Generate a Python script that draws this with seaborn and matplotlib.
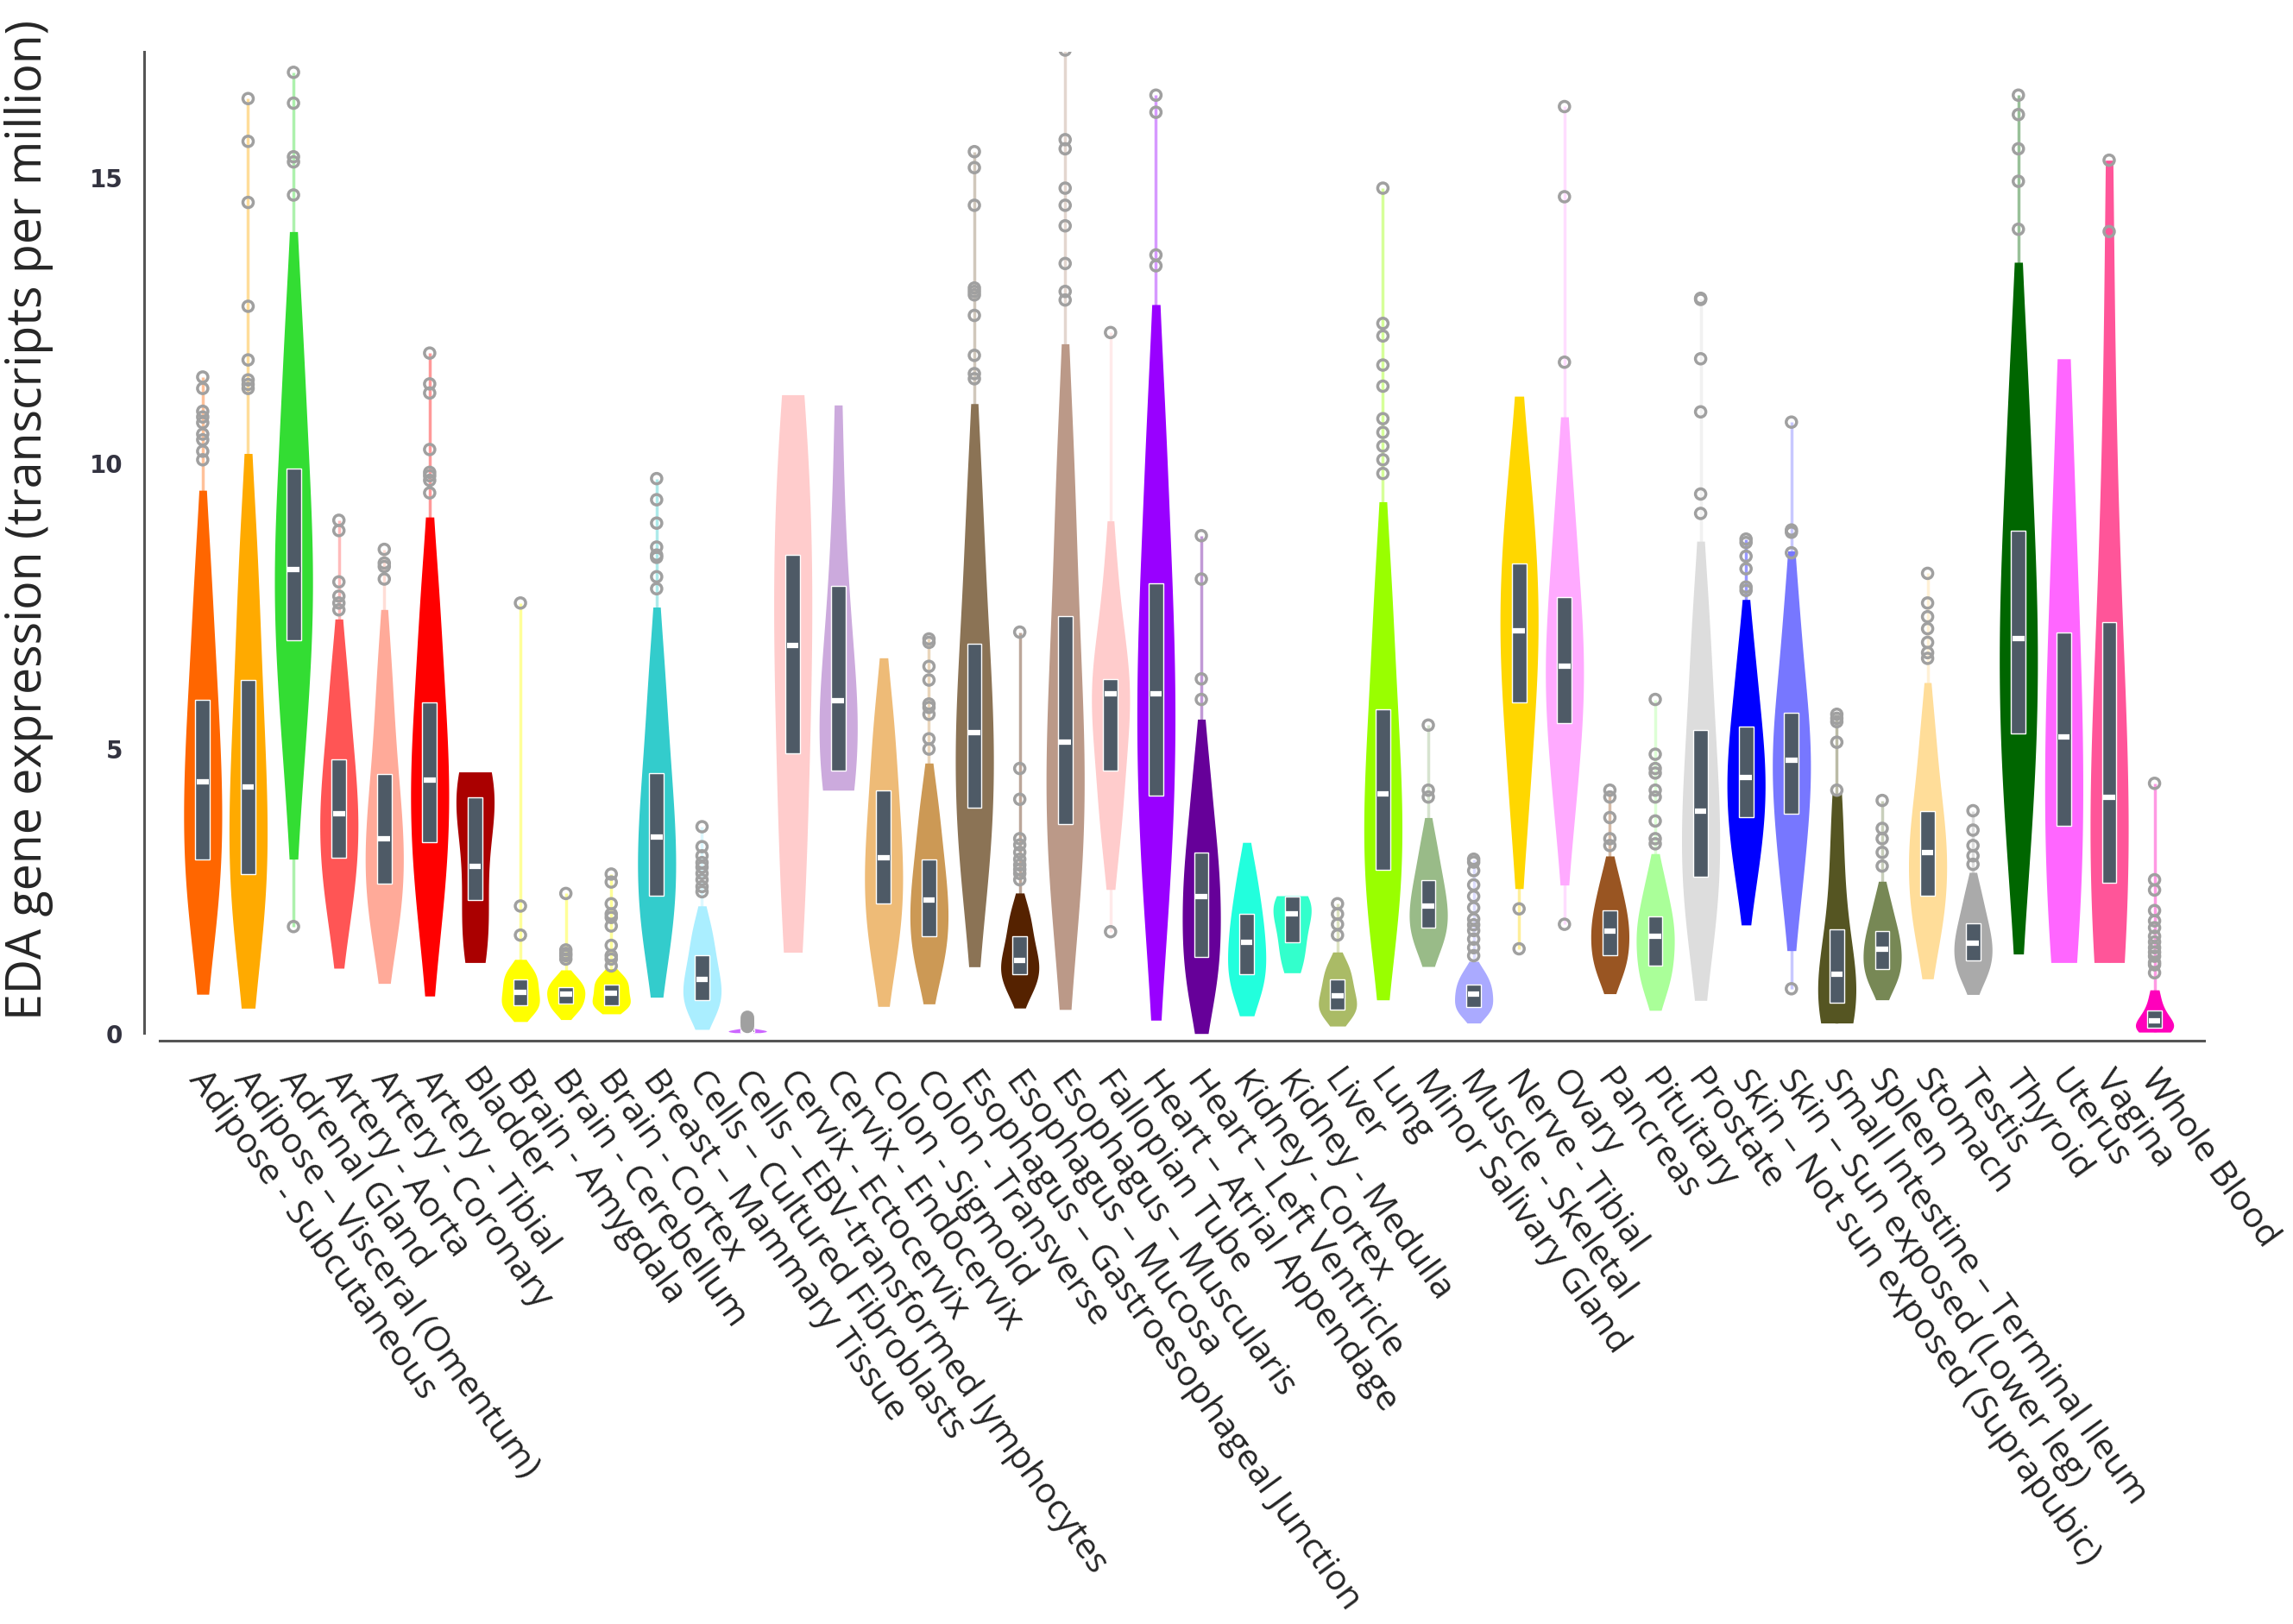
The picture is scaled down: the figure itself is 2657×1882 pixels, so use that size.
import numpy as np
import pandas as pd
import seaborn as sns
import matplotlib.pyplot as plt
from matplotlib.transforms import ScaledTranslation

sns.set_style("white")

tissues = [
    "Adipose - Subcutaneous", "Adipose – Visceral (Omentum)", "Adrenal Gland",
    "Artery - Aorta", "Artery - Coronary", "Artery - Tibial", "Bladder",
    "Brain - Amygdala", "Brain - Cerebellum", "Brain - Cortex",
    "Breast – Mammary Tissue", "Cells – Cultured Fibroblasts",
    "Cells – EBV-transformed lymphocytes", "Cervix - Ectocervix", "Cervix - Endocervix",
    "Colon - Sigmoid", "Colon - Transverse", "Esophagus – Gastroesophageal Junction",
    "Esophagus – Mucosa", "Esophagus – Muscularis", "Fallopian Tube",
    "Heart – Atrial Appendage", "Heart – Left Ventricle", "Kidney - Cortex",
    "Kidney - Medulla", "Liver", "Lung", "Minor Salivary Gland", "Muscle - Skeletal",
    "Nerve - Tibial", "Ovary", "Pancreas", "Pituitary", "Prostate",
    "Skin – Not sun exposed (Suprapubic)", "Skin – Sun exposed (Lower leg)",
    "Small Intestine – Terminal Ileum", "Spleen", "Stomach", "Testis", "Thyroid",
    "Uterus", "Vagina", "Whole Blood",
]

colors = [
    "#FF6600", "#FFAA00", "#33DD33", "#FF5555", "#FFAA99", "#FF0000", "#AA0000",
    "#FFFF00", "#FFFF00", "#FFFF00", "#33CCCC", "#AAEEFF", "#CC66FF", "#FFCCCC",
    "#CCAADD", "#EEBB77", "#CC9955", "#8B7355", "#552200", "#BB9988", "#FFCCCC",
    "#9900FF", "#660099", "#22FFDD", "#33FFCC", "#AABB66", "#99FF00", "#99BB88",
    "#AAAAFF", "#FFD700", "#FFAAFF", "#995522", "#AAFF99", "#DDDDDD", "#0000FF",
    "#7777FF", "#555522", "#778855", "#FFDD99", "#AAAAAA", "#006600", "#FF66FF",
    "#FF5599", "#FF00BB",
]

# quartiles of each tissue (TPM)
q1 = [3.05, 2.79, 6.88, 3.08, 2.62, 3.35, 2.33, 0.49, 0.52, 0.49, 2.41, 0.58, 0.02,
      4.90, 4.60, 2.27, 1.70, 3.96, 1.03, 3.66, 4.60, 4.16, 1.34, 1.03, 1.60, 0.42,
      2.87, 1.85, 0.46, 5.80, 5.44, 1.36, 1.18, 2.75, 3.78, 3.84, 0.54, 1.12, 2.41,
      1.27, 5.25, 3.63, 2.63, 0.10]
med = [4.40, 4.32, 8.12, 3.84, 3.41, 4.44, 2.93, 0.72, 0.69, 0.70, 3.44, 0.94, 0.04,
       6.79, 5.83, 3.08, 2.33, 5.27, 1.27, 5.10, 5.95, 5.95, 2.39, 1.60, 2.09, 0.66,
       4.20, 2.23, 0.68, 7.06, 6.43, 1.79, 1.70, 3.90, 4.48, 4.78, 1.03, 1.48, 3.17,
       1.58, 6.91, 5.19, 4.14, 0.22]
q3 = [5.85, 6.19, 9.89, 4.80, 4.54, 5.80, 4.14, 0.94, 0.81, 0.86, 4.56, 1.36, 0.06,
      8.38, 7.84, 4.26, 3.05, 6.83, 1.70, 7.31, 6.21, 7.88, 3.17, 2.09, 2.39, 0.94,
      5.67, 2.69, 0.86, 8.24, 7.64, 2.15, 2.05, 5.32, 5.37, 5.61, 1.82, 1.79, 3.90,
      1.93, 8.81, 7.03, 7.21, 0.40]

# values read along the body of each violin
body = [
    [1.8, 2.5, 3.05, 3.7, 4.4, 5.1, 5.85, 7.0, 8.4],
    [1.7, 2.3, 2.79, 3.55, 4.32, 5.2, 6.19, 7.5, 8.9],
    [4.4, 5.8, 6.88, 7.5, 8.12, 8.9, 9.89, 11.2, 12.7],
    [1.9, 2.5, 3.08, 3.45, 3.84, 4.3, 4.80, 5.6, 6.5],
    [1.7, 2.15, 2.62, 3.0, 3.41, 3.95, 4.54, 5.5, 6.6],
    [1.7, 2.6, 3.35, 3.9, 4.44, 5.1, 5.80, 6.9, 8.0],
    [1.24, 1.55, 1.9, 2.33, 2.93, 3.5, 3.95, 4.14, 4.3, 4.45, 4.58],
    [0.35, 0.45, 0.49, 0.6, 0.72, 0.83, 0.94, 1.05, 1.15],
    [0.35, 0.45, 0.52, 0.6, 0.69, 0.75, 0.81, 0.9, 1.0],
    [0.45, 0.48, 0.49, 0.6, 0.70, 0.78, 0.86, 0.95, 1.02],
    [1.5, 1.95, 2.41, 2.9, 3.44, 3.95, 4.56, 5.5, 6.6],
    [0.35, 0.48, 0.58, 0.75, 0.94, 1.12, 1.36, 1.65, 1.95],
    [0.01, 0.02, 0.03, 0.04, 0.05, 0.06, 0.08],
    [1.42, 2.5, 3.8, 4.9, 5.9, 6.79, 7.6, 8.38, 9.3, 10.2, 11.19],
    [4.26, 4.4, 4.6, 5.0, 5.4, 5.83, 6.3, 7.0, 7.84, 9.0, 11.01],
    [1.25, 1.75, 2.27, 2.65, 3.08, 3.6, 4.26, 5.0, 5.8],
    [1.05, 1.4, 1.70, 2.0, 2.33, 2.65, 3.05, 3.6, 4.2],
    [2.4, 3.2, 3.96, 4.6, 5.27, 6.0, 6.83, 8.2, 9.8],
    [0.7, 0.88, 1.03, 1.15, 1.27, 1.45, 1.70, 1.95, 2.2],
    [1.9, 2.8, 3.66, 4.35, 5.10, 6.1, 7.31, 8.9, 10.6],
    [3.3, 4.0, 4.60, 5.4, 5.95, 6.05, 6.21, 7.0, 8.2],
    [1.8, 3.0, 4.16, 5.1, 5.95, 6.9, 7.88, 9.5, 11.2],
    [0.7, 1.0, 1.34, 1.9, 2.39, 2.75, 3.17, 3.9, 4.8],
    [0.7, 0.85, 1.03, 1.3, 1.60, 1.85, 2.09, 2.5, 2.95],
    [1.06, 1.25, 1.45, 1.60, 1.8, 1.95, 2.09, 2.2, 2.3, 2.39, 2.41],
    [0.3, 0.36, 0.42, 0.54, 0.66, 0.8, 0.94, 1.1, 1.25],
    [1.7, 2.3, 2.87, 3.5, 4.20, 4.9, 5.67, 6.9, 8.2],
    [1.5, 1.68, 1.85, 2.05, 2.23, 2.45, 2.69, 3.0, 3.45],
    [0.32, 0.4, 0.46, 0.57, 0.68, 0.77, 0.86, 0.98, 1.12],
    [3.6, 4.8, 5.80, 6.45, 7.06, 7.65, 8.24, 9.1, 10.1],
    [3.6, 4.6, 5.44, 5.95, 6.43, 7.0, 7.64, 8.6, 9.8],
    [1.0, 1.18, 1.36, 1.6, 1.79, 1.97, 2.15, 2.45, 2.8],
    [0.75, 0.95, 1.18, 1.45, 1.70, 1.87, 2.05, 2.4, 2.8],
    [1.6, 2.2, 2.75, 3.3, 3.90, 4.55, 5.32, 6.4, 7.6],
    [2.6, 3.2, 3.78, 4.1, 4.48, 4.9, 5.37, 6.0, 6.9],
    [2.3, 3.1, 3.84, 4.3, 4.78, 5.2, 5.61, 6.5, 7.6],
    [0.18, 0.3, 0.42, 0.54, 0.78, 1.03, 1.35, 1.82, 2.5, 3.3, 4.2],
    [0.85, 0.98, 1.12, 1.3, 1.48, 1.63, 1.79, 2.05, 2.4],
    [1.6, 2.0, 2.41, 2.8, 3.17, 3.5, 3.90, 4.6, 5.5],
    [0.95, 1.1, 1.27, 1.42, 1.58, 1.75, 1.93, 2.2, 2.55],
    [2.9, 4.1, 5.25, 6.1, 6.91, 7.8, 8.81, 10.3, 12.0],
    [1.24, 1.8, 2.6, 3.63, 4.4, 5.19, 6.1, 7.03, 8.3, 9.8, 11.82],
    [1.24, 1.6, 2.1, 2.63, 3.3, 4.14, 5.0, 6.0, 7.21, 9.0, 11.5, 15.3],
    [0.02, 0.05, 0.08, 0.10, 0.15, 0.22, 0.3, 0.40, 0.55, 0.76],
]

outliers = [
    [10.05, 10.2, 10.4, 10.5, 10.7, 10.8, 10.9, 11.3, 11.5],
    [11.3, 11.37, 11.45, 11.8, 12.74, 14.56, 15.63, 16.38],
    [1.87, 14.69, 15.27, 15.36, 16.3, 16.84],
    [7.42, 7.54, 7.66, 7.91, 8.81, 8.99],
    [7.96, 8.18, 8.24, 8.48],
    [9.47, 9.69, 9.77, 9.83, 10.23, 11.22, 11.38, 11.92],
    [],
    [1.72, 2.23, 7.54],
    [1.3, 1.36, 1.4, 1.46, 2.45],
    [1.18, 1.3, 1.36, 1.54, 1.88, 2.03, 2.09, 2.27, 2.65, 2.79],
    [7.79, 8.0, 8.34, 8.38, 8.52, 8.94, 9.35, 9.72],
    [2.48, 2.57, 2.69, 2.8, 2.91, 2.99, 3.11, 3.27, 3.62],
    [0.12, 0.15, 0.18, 0.2, 0.22, 0.25, 0.28],
    [],
    [],
    [],
    [4.98, 5.16, 5.59, 5.71, 5.77, 6.19, 6.43, 6.85, 6.91],
    [11.47, 11.56, 11.88, 12.58, 12.94, 13.0, 13.06, 14.51, 15.17, 15.45],
    [2.69, 2.8, 2.87, 2.95, 3.05, 3.17, 3.3, 3.41, 4.10, 4.64, 7.03],
    [12.85, 13.0, 13.49, 14.15, 14.51, 14.81, 15.5, 15.66, 17.23],
    [1.78, 12.28],
    [13.45, 13.64, 16.14, 16.44],
    [5.85, 6.21, 7.96, 8.72],
    [],
    [],
    [1.72, 1.91, 2.09, 2.27],
    [9.81, 10.05, 10.29, 10.53, 10.77, 11.34, 11.71, 12.22, 12.44, 14.81],
    [4.14, 4.26, 5.40],
    [1.36, 1.5, 1.65, 1.8, 1.9, 2.0, 2.2, 2.4, 2.6, 2.85, 3.0, 3.05],
    [1.48, 2.18],
    [1.91, 11.76, 14.66, 16.24],
    [3.29, 3.41, 3.78, 4.14, 4.26],
    [3.32, 3.41, 3.72, 4.14, 4.26, 4.56, 4.64, 4.89, 5.85],
    [9.11, 9.45, 10.89, 11.82, 12.86, 12.88],
    [7.76, 7.82, 8.14, 8.36, 8.60, 8.66],
    [0.78, 8.42, 8.78, 8.82, 10.71],
    [4.26, 5.10, 5.46, 5.52, 5.59],
    [2.93, 3.17, 3.41, 3.59, 4.08],
    [6.57, 6.67, 6.85, 7.09, 7.30, 7.54, 8.06],
    [2.96, 3.11, 3.29, 3.56, 3.90],
    [14.09, 14.93, 15.5, 16.1, 16.44],
    [],
    [14.05, 15.3],
    [1.06, 1.2, 1.24, 1.35, 1.42, 1.5, 1.60, 1.7, 1.85, 1.97, 2.15, 2.51, 2.69, 4.38],
]

# violins that stop flat at their smallest / largest value
flat = ["Bladder", "Cells – EBV-transformed lymphocytes", "Cervix - Ectocervix",
        "Cervix - Endocervix", "Kidney - Medulla", "Small Intestine – Terminal Ileum",
        "Uterus", "Vagina", "Whole Blood"]

df = pd.DataFrame([(t, v) for t, vals in zip(tissues, body) for v in vals],
                  columns=["tissue", "tpm"])

fig = plt.figure(figsize=(26.57, 18.83), dpi=100)
ax = fig.add_axes([0.0696, 0.359, 0.8916, 0.6086])

pos = np.arange(len(tissues))

# faint line running through the outliers
for i, (vals, outs, c) in enumerate(zip(body, outliers, colors)):
    if outs:
        allv = vals + outs
        ax.vlines(i, min(allv), max(allv), color=c, alpha=0.4, lw=2.5, zorder=0.5)

for name, c in zip(tissues, colors):
    sns.violinplot(data=df[df.tissue == name], x="tissue", y="tpm", order=tissues,
                   color=c, saturation=1, inner=None, linewidth=0,
                   density_norm="width", width=0.84,
                   cut=0 if name in flat else 0.8, ax=ax)

ax.bar(pos, np.subtract(q3, q1), bottom=q1, width=0.32, color="#4E5A66", zorder=3)
ax.hlines(med, pos - 0.13, pos + 0.13, color="white", lw=4.5, zorder=4)

for i, outs in enumerate(outliers):
    ax.scatter([i] * len(outs), outs, s=75, facecolors="none",
               edgecolors="#A0A0A0", linewidths=2.5, zorder=5)

ax.set_xlim(-0.95, 44.09)
ax.set_ylim(-0.13, 17.2)

for side in ["top", "right"]:
    ax.spines[side].set_visible(False)
for side in ["left", "bottom"]:
    ax.spines[side].set_color("#555555")
    ax.spines[side].set_linewidth(2.2)
ax.spines["left"].set_position(("outward", 13))
ax.spines["left"].set_bounds(0, 17.2)

ax.set_yticks([0, 5, 10, 15])
ax.set_yticklabels(["0", "5", "10", "15"], fontsize=20, fontweight="bold",
                   family="DejaVu Sans", color="#333340")
ax.tick_params(axis="y", length=13.7, width=2.2, color="#555555", pad=4)

ax.set_xticks(pos)
ax.set_xticklabels(tissues, rotation=-54, ha="left", va="top",
                   rotation_mode="anchor", fontsize=29.5, family="Open Sans")
ax.set_xticks([-0.95, 44.09], minor=True)
ax.tick_params(axis="x", which="both", length=13.7, width=2.2, color="#555555", pad=5)
for lab in ax.get_xticklabels():
    lab.set_transform(lab.get_transform() + ScaledTranslation(0.08, 0, fig.dpi_scale_trans))

ax.set_xlabel("")
ax.set_ylabel("EDA gene expression (transcripts per million)", fontsize=40,
              family="Open Sans")
ax.yaxis.set_label_coords(0.0233, 0.680, transform=fig.transFigure)

fig.savefig("out.png", dpi=100)
plt.close(fig)
